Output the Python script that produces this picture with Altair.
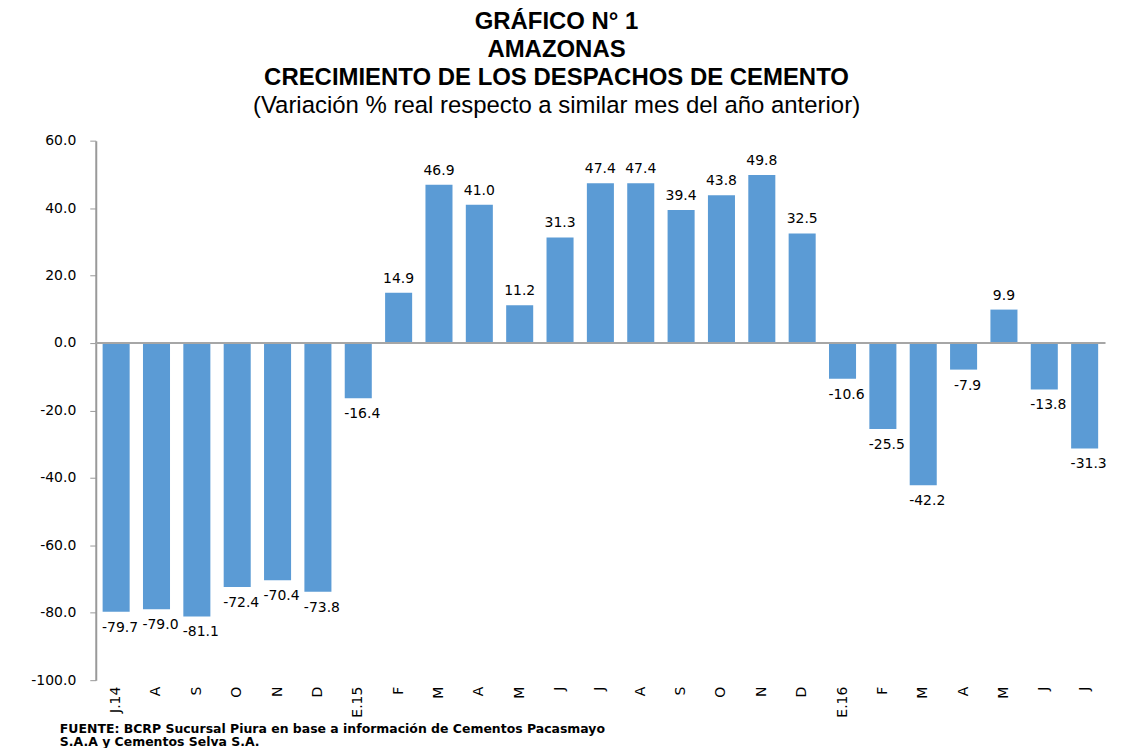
import altair as alt
import pandas as pd

labels = ["J.14", "A", "S", "O", "N", "D", "E.15", "F", "M", "A", "M", "J", "J",
          "A", "S", "O", "N", "D", "E.16", "F", "M", "A", "M", "J", "J"]
values = [-79.7, -79.0, -81.1, -72.4, -70.4, -73.8, -16.4, 14.9, 46.9, 41.0, 11.2,
          31.3, 47.4, 47.4, 39.4, 43.8, 49.8, 32.5, -10.6, -25.5, -42.2, -7.9, 9.9,
          -13.8, -31.3]
y_ticks = [-100, -80, -60, -40, -20, 0, 20, 40, 60]
footer = ["FUENTE:   BCRP  Sucursal Piura en base a información de Cementos Pacasmayo",
          "S.A.A y Cementos Selva S.A."]

df = pd.DataFrame({"i": list(range(len(labels))), "lab": labels, "v": values})
df["txt"] = df["v"].map(lambda x: f"{x:.1f}")

FONT = "Liberation Sans"
WIDE = "DejaVu Sans"
label_expr = "[" + ",".join(f"'{l}'" for l in labels) + "][datum.value]"

x = alt.X("i:O", title=None,
          scale=alt.Scale(paddingInner=0.33, paddingOuter=0.17),
          axis=alt.Axis(labelExpr=label_expr, labelAngle=270, labelFont=WIDE,
                        labelFontSize=14, labelColor="#000", domain=False,
                        ticks=False, labelPadding=6))
y = alt.Y("v:Q", title=None,
          scale=alt.Scale(domain=[-100, 60], nice=False),
          axis=alt.Axis(values=y_ticks,
                        labelExpr="replace(format(datum.value, '.1f'), '\u2212', '-')",
                        grid=False, labelFont=WIDE,
                        labelFontSize=14, labelColor="#000", domainColor="#999",
                        tickColor="#999", tickSize=6, labelPadding=14, domainWidth=2))

base = alt.Chart(df)
bars = base.mark_bar(color="#5B9BD5").encode(x=x, y=y)
zero = base.mark_rule(color="#a6a6a6", strokeWidth=2).encode(
    y=alt.datum(0), x=alt.value(0), x2=alt.value(1012))
pos = base.transform_filter("datum.v >= 0").mark_text(
    dy=-14, font=WIDE, fontSize=14, color="#000").encode(x=x, y=y, text="txt:N")
neg = base.transform_filter("datum.v < 0").mark_text(
    dy=16, dx=4, font=WIDE, fontSize=14, color="#000").encode(x=x, y=y, text="txt:N")
foot_df = pd.DataFrame({"t": footer})
foot1 = alt.Chart(foot_df).transform_filter(alt.datum.t == footer[0]).mark_text(
    align="left", baseline="middle", font=WIDE, fontSize=12.5, fontWeight="bold",
    color="#000").encode(x=alt.value(-36), y=alt.value(590), text="t:N")
foot2 = alt.Chart(foot_df).transform_filter(alt.datum.t == footer[1]).mark_text(
    align="left", baseline="middle", font=WIDE, fontSize=12.5, fontWeight="bold",
    color="#000").encode(x=alt.value(-36), y=alt.value(603), text="t:N")

chart = alt.layer(bars, zero, pos, neg, foot1, foot2).properties(
    width=1012, height=541,
    autosize=alt.AutoSizeParams(type="none"),
    padding={"left": 88, "top": 132, "right": 10, "bottom": 67},
    title=alt.TitleParams(
        text=["GRÁFICO N° 1", "AMAZONAS", "CRECIMIENTO DE LOS DESPACHOS DE CEMENTO"],
        subtitle="(Variación % real respecto a similar mes del año anterior)",
        font=FONT, fontSize=24, fontWeight="bold", color="#000",
        subtitleFont=FONT, subtitleFontSize=24, subtitleColor="#000",
        lineHeight=28, subtitlePadding=4, anchor="middle", dx=-44, offset=16),
).configure_view(stroke=None)

chart.save("out.html", embed_options={"renderer": "svg", "actions": False})
